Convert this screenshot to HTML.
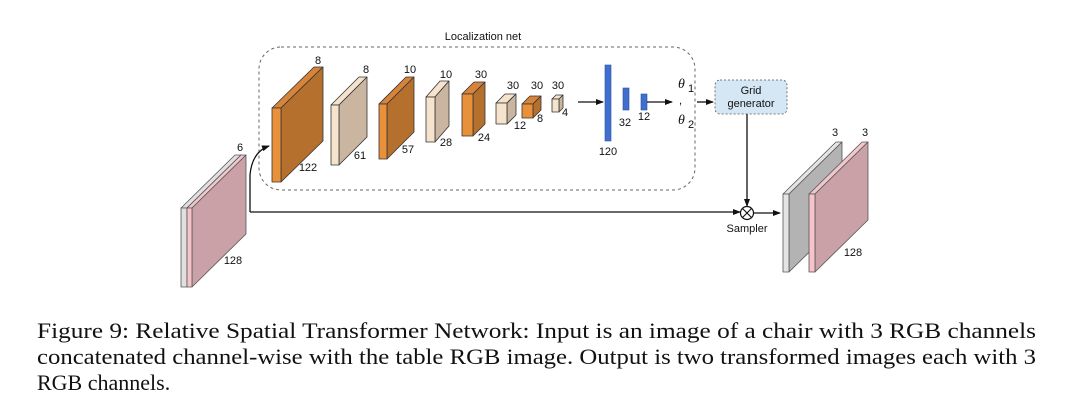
<!DOCTYPE html>
<html><head><meta charset="utf-8"><style>
html,body{margin:0;padding:0;background:#fff;width:1080px;height:402px;overflow:hidden}
svg{display:block}
.s{font-family:"Liberation Sans",sans-serif;font-size:11px;fill:#111}
.c{font-family:"Liberation Serif",serif;font-size:22px;fill:#111}
</style></head><body>
<svg width="1080" height="402" viewBox="0 0 1080 402" xmlns="http://www.w3.org/2000/svg">
<defs>
<marker id="ah" markerWidth="8" markerHeight="8" refX="7" refY="4" orient="auto" markerUnits="userSpaceOnUse">
<path d="M0,1 L8,4 L0,7 z" fill="#111"/></marker>
</defs>
<!-- dashed localization box -->
<rect x="259" y="47" width="436" height="143" rx="22" fill="none" stroke="#666" stroke-dasharray="3,3" stroke-width="1"/>
<text x="483" y="40" class="s" text-anchor="middle">Localization net</text>

<g stroke="#333" stroke-width="0.8" stroke-linejoin="round">
<!-- box1 -->
<polygon points="272,108 281,108 323,67 314,67" fill="#d8833a"/>
<polygon points="281,108 323,67 323,141 281,182" fill="#b5702e"/>
<rect x="272" y="108" width="9" height="74" fill="#e8913a"/>
<!-- box2 -->
<polygon points="331,105 339,105 367,77 359,77" fill="#f6e3cd"/>
<polygon points="339,105 367,77 367,137 339,165" fill="#c9b5a0"/>
<rect x="331" y="105" width="8" height="60" fill="#f6e3cd"/>
<!-- box3 -->
<polygon points="379,104 387,104 414,77 406,77" fill="#d8833a"/>
<polygon points="387,104 414,77 414,132 387,159" fill="#b5702e"/>
<rect x="379" y="104" width="8" height="55" fill="#e8913a"/>
<!-- box4 -->
<polygon points="426,97 435,97 449,81 440,81" fill="#f6e3cd"/>
<polygon points="435,97 449,81 449,126 435,142" fill="#c9b5a0"/>
<rect x="426" y="97" width="9" height="45" fill="#f6e3cd"/>
<!-- box5 -->
<polygon points="462,94 473,94 485,82 474,82" fill="#d8833a"/>
<polygon points="473,94 485,82 485,124 473,136" fill="#b5702e"/>
<rect x="462" y="94" width="11" height="42" fill="#e8913a"/>
<!-- box6 -->
<polygon points="496,103 507,103 516,94 505,94" fill="#f6e3cd"/>
<polygon points="507,103 516,94 516,115 507,124" fill="#c9b5a0"/>
<rect x="496" y="103" width="11" height="21" fill="#f6e3cd"/>
<!-- box7 -->
<polygon points="522,104 533,104 541,96 530,96" fill="#d8833a"/>
<polygon points="533,104 541,96 541,110 533,118" fill="#b5702e"/>
<rect x="522" y="104" width="11" height="14" fill="#e8913a"/>
<!-- box8 -->
<polygon points="552,99 559,99 563,95 556,95" fill="#f6e3cd"/>
<polygon points="559,99 563,95 563,108 559,112" fill="#c9b5a0"/>
<rect x="552" y="99" width="7" height="13" fill="#f6e3cd"/>
</g>
<g class="s" text-anchor="middle">
<text x="318" y="64">8</text><text x="366" y="73">8</text><text x="410" y="73">10</text>
<text x="446" y="78">10</text><text x="481" y="78">30</text><text x="513" y="89">30</text>
<text x="537" y="89">30</text><text x="558" y="89">30</text>
<text x="308" y="171">122</text><text x="360" y="159">61</text><text x="408" y="153">57</text>
<text x="446" y="146">28</text><text x="484" y="141">24</text><text x="520" y="129">12</text>
<text x="540" y="122">8</text><text x="565" y="116">4</text>
<text x="608" y="155">120</text><text x="625" y="126">32</text><text x="644" y="120">12</text>
</g>
<line x1="578" y1="102" x2="603" y2="102" stroke="#111" stroke-width="1.3" marker-end="url(#ah)"/>
<rect x="605" y="65" width="6" height="76" fill="#3f6fcf" stroke="#2a4f9a" stroke-width="0.6"/>
<rect x="623" y="88" width="6" height="22" fill="#3f6fcf" stroke="#2a4f9a" stroke-width="0.6"/>
<rect x="641" y="94" width="6" height="16" fill="#3f6fcf" stroke="#2a4f9a" stroke-width="0.6"/>
<line x1="647" y1="102" x2="672" y2="102" stroke="#111" stroke-width="1.3" marker-end="url(#ah)"/>
<text x="678" y="88" font-family="Liberation Serif,serif" font-style="italic" font-size="14" fill="#111">θ</text>
<text x="688" y="92" class="s" font-size="8">1</text>
<text x="679" y="104" class="s">,</text>
<text x="678" y="124" font-family="Liberation Serif,serif" font-style="italic" font-size="14" fill="#111">θ</text>
<text x="688" y="128" class="s" font-size="8">2</text>
<line x1="697" y1="102" x2="713" y2="102" stroke="#111" stroke-width="1.3" marker-end="url(#ah)"/>
<rect x="715" y="80" width="72" height="34" rx="5" fill="#d5e7f5" stroke="#555" stroke-dasharray="2,2" stroke-width="0.8"/>
<text x="751" y="94" class="s" text-anchor="middle">Grid</text>
<text x="751" y="107" class="s" text-anchor="middle">generator</text>
<line x1="747" y1="114" x2="747" y2="206" stroke="#111" stroke-width="1.3" marker-end="url(#ah)"/>
<circle cx="747" cy="213" r="6.5" fill="#fff" stroke="#111" stroke-width="1.2"/>
<path d="M742.4,208.4 L751.6,217.6 M751.6,208.4 L742.4,217.6" stroke="#111" stroke-width="1.1"/>
<text x="747" y="232" class="s" text-anchor="middle">Sampler</text>
<line x1="250" y1="212" x2="740" y2="212" stroke="#111" stroke-width="1.3" marker-end="url(#ah)"/>
<path d="M250,212 L250,175 Q252,152 269,146" fill="none" stroke="#111" stroke-width="1.3" marker-end="url(#ah)"/>
<line x1="754" y1="213" x2="780" y2="213" stroke="#111" stroke-width="1.3" marker-end="url(#ah)"/>

<g stroke="#555" stroke-width="0.8" stroke-linejoin="round">
<!-- input -->
<polygon points="181,208 187,208 241,155 235,155" fill="#e0e0e0"/>
<polygon points="187,208 241,155 241,234 187,287" fill="#aaa"/>
<rect x="181" y="208" width="6" height="79" fill="#e0e0e0"/>
<polygon points="187,208 192,208 246,155 241,155" fill="#f2c7cc"/>
<polygon points="192,208 246,155 246,234 192,287" fill="#c9a1a6"/>
<rect x="187" y="208" width="5" height="79" fill="#f6c3c8"/>
<!-- outputs -->
<polygon points="783,194 789,194 842,142 836,142" fill="#e4e4e4"/>
<polygon points="789,194 842,142 842,220 789,272" fill="#b3b3b3"/>
<rect x="783" y="194" width="6" height="78" fill="#e4e4e4"/>
<polygon points="809,194 815,194 868,142 862,142" fill="#f2c7cc"/>
<polygon points="815,194 868,142 868,220 815,272" fill="#c9a1a6"/>
<rect x="809" y="194" width="6" height="78" fill="#f6c3c8"/>
</g>
<g class="s" text-anchor="middle">
<text x="240" y="151">6</text><text x="233" y="264">128</text>
<text x="835" y="136">3</text><text x="865" y="136">3</text><text x="853" y="256">128</text>
</g>

<text x="37" y="338" class="c" textLength="999" lengthAdjust="spacingAndGlyphs">Figure 9: Relative Spatial Transformer Network: Input is an image of a chair with 3 RGB channels</text>
<text x="37" y="364" class="c" textLength="999" lengthAdjust="spacingAndGlyphs">concatenated channel-wise with the table RGB image. Output is two transformed images each with 3</text>
<text x="37" y="390" class="c">RGB channels.</text>
</svg>
</body></html>
